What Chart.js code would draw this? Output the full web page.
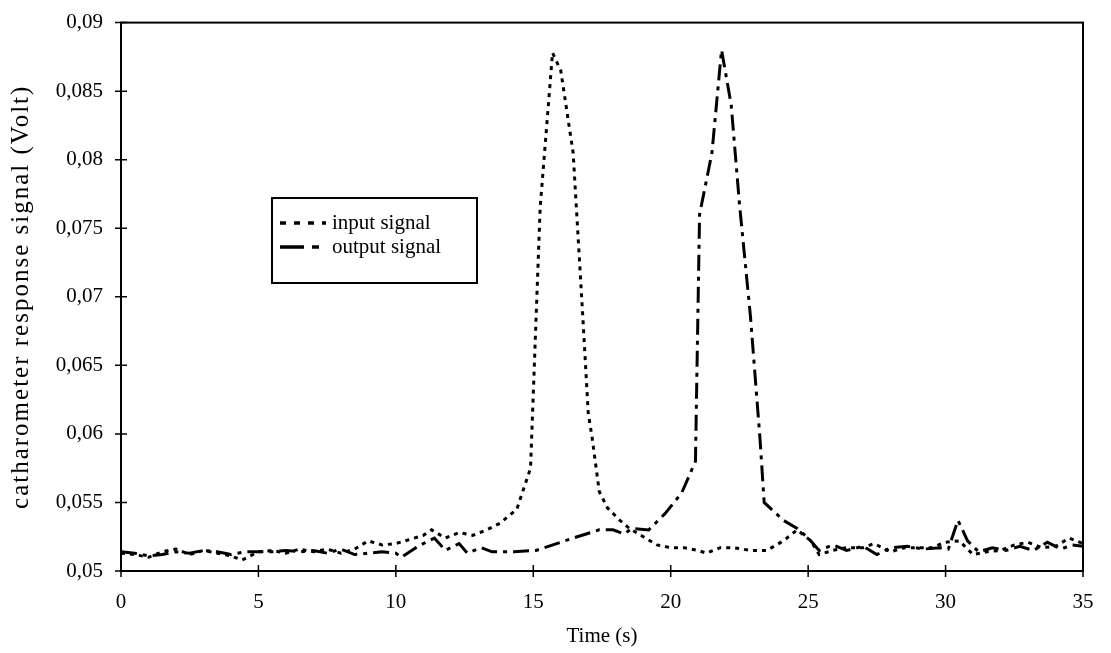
<!DOCTYPE html>
<html>
<head>
<meta charset="utf-8">
<script src="https://cdn.jsdelivr.net/npm/chart.js@4"></script>
<style>
  html, body { margin: 0; padding: 0; background: #fff; }
  #wrap { width: 1111px; height: 653px; }
</style>
</head>
<body>
<div id="wrap"><canvas id="signalChart" width="1111" height="653"></canvas></div>
<script>
// input signal (dotted)
var inputTime = [0, 0.5, 1, 1.5, 2, 2.5, 3, 3.5, 4, 4.4, 5, 5.5, 6, 6.5, 7, 7.5, 8, 8.5, 9, 9.5,
    10, 10.5, 11, 11.3, 11.8, 12.3, 12.8, 13.3, 13.8, 14.4, 14.9, 15.25, 15.7, 16, 16.45, 16.8,
    17, 17.15, 17.4, 17.7, 18.15, 18.5, 19, 19.5, 20, 20.5, 21, 21.3, 21.8, 22.3, 22.9, 23.5,
    24.1, 24.6, 25.1, 25.4, 25.9, 26.4, 27, 27.4, 28, 28.5, 29, 29.5, 30, 30.5, 31, 31.5, 32,
    32.5, 33, 33.5, 34, 34.5, 35];
var inputVolt = [0.0513, 0.0512, 0.0510, 0.0514, 0.0516, 0.0512, 0.0515, 0.0513, 0.0511, 0.0508,
    0.0514, 0.0515, 0.0513, 0.0516, 0.0514, 0.0516, 0.0513, 0.0516, 0.0522, 0.0519,
    0.0520, 0.0523, 0.0526, 0.0530, 0.0524, 0.0528, 0.0526, 0.0530, 0.0535, 0.0545, 0.0575,
    0.0765, 0.0878, 0.0865, 0.0805, 0.0686, 0.0615, 0.0596, 0.0558, 0.0546, 0.0537, 0.0531,
    0.0525, 0.0519, 0.0517, 0.0517, 0.0515, 0.0513, 0.0517, 0.0517, 0.0515, 0.0515,
    0.0522, 0.0530, 0.0522, 0.0512, 0.0515, 0.0517, 0.0517, 0.0520, 0.0514, 0.0517, 0.0517,
    0.0517, 0.0521, 0.0522, 0.0512, 0.0514, 0.0515, 0.0519, 0.0521, 0.0517, 0.0518, 0.0524, 0.0520];

// output signal (dash-dot)
var outputTime = [0, 0.5, 1, 1.5, 2, 2.5, 3, 3.5, 4, 4.5, 5, 5.5, 6, 6.5, 7, 7.5, 8, 8.5, 9, 9.5,
    10, 10.2, 10.8, 11.4, 11.8, 12.3, 12.6, 13.1, 13.5, 14.3, 15.1, 16, 16.6, 17.4, 17.9, 18.3,
    18.6, 19.2, 19.8, 20.4, 20.9, 21.05, 21.5, 21.85, 22.2, 22.5, 22.9, 23.25, 23.4, 24.1, 24.6,
    25, 25.4, 25.9, 26.4, 27, 27.5, 28, 28.6, 29.2, 29.8, 30.1, 30.45, 30.8, 31.2, 31.7, 32.2,
    32.7, 33.2, 33.7, 34.2, 34.6, 35];
var outputVolt = [0.0514, 0.0513, 0.0511, 0.0512, 0.0514, 0.0513, 0.0515, 0.0514, 0.0512, 0.0514,
    0.0514, 0.0514, 0.0515, 0.0514, 0.0515, 0.0513, 0.0516, 0.0512, 0.0513, 0.0514,
    0.0513, 0.0510, 0.0518, 0.0524, 0.0515, 0.0520, 0.0513, 0.0517, 0.0514, 0.0514, 0.0515,
    0.0521, 0.0525, 0.0530, 0.0530, 0.0527, 0.0531, 0.0530, 0.0542, 0.0557, 0.0580, 0.0760,
    0.0805, 0.0880, 0.0840, 0.0768, 0.0686, 0.0596, 0.0550, 0.0537, 0.0531, 0.0524, 0.0515,
    0.0519, 0.0515, 0.0518, 0.0512, 0.0517, 0.0518, 0.0516, 0.0517, 0.0516, 0.0537, 0.0522,
    0.0514, 0.0517, 0.0515, 0.0518, 0.0515, 0.0521, 0.0516, 0.0519, 0.0518];

var xTicks = [0, 5, 10, 15, 20, 25, 30, 35];
var yTicks = [0.05, 0.055, 0.06, 0.065, 0.07, 0.075, 0.08, 0.085, 0.09];
var seriesNames = ['input signal', 'output signal'];
var yTitle = 'catharometer response signal (Volt)';

var serif = '"Liberation Serif", "Times New Roman", serif';

function toPoints(xs, ys) {
    var pts = [];
    for (let i = 0; i < xs.length; i += 1) {
        pts.push({ x: xs[i], y: ys[i] });
    }
    return pts;
}

var dotted = [4, 5];
var dashDot = [16, 6, 4, 6];

// frame, ticks crossing the axes, legend box and the y title
var framePlugin = {
    id: 'frame',
    afterDraw: function(chart) {
        var ctx = chart.ctx;
        var a = chart.chartArea;
        var xs = chart.scales.x;
        var ys = chart.scales.y;
        ctx.save();
        ctx.strokeStyle = '#000';
        ctx.lineWidth = 2;
        ctx.strokeRect(a.left, a.top, a.right - a.left, a.bottom - a.top);
        ctx.lineWidth = 1.5;
        ctx.beginPath();
        xTicks.forEach(function(v) {
            var px = xs.getPixelForValue(v);
            ctx.moveTo(px, a.bottom - 6);
            ctx.lineTo(px, a.bottom + 6);
        });
        yTicks.forEach(function(v) {
            var py = ys.getPixelForValue(v);
            ctx.moveTo(a.left - 6, py);
            ctx.lineTo(a.left + 6, py);
        });
        ctx.stroke();

        // legend
        var lx = 272, ly = 198, lw = 205, lh = 85;
        ctx.fillStyle = '#fff';
        ctx.fillRect(lx, ly, lw, lh);
        ctx.lineWidth = 2;
        ctx.strokeRect(lx, ly, lw, lh);
        var dashes = [[6, 8], [24, 8, 7, 8]];
        ctx.font = '21px ' + serif;
        ctx.textBaseline = 'middle';
        ctx.fillStyle = '#000';
        for (let i = 0; i < seriesNames.length; i += 1) {
            var yy = ly + 25 + i * 24;
            ctx.setLineDash(dashes[i]);
            ctx.lineWidth = 3.5;
            ctx.beginPath();
            ctx.moveTo(lx + 8, yy);
            ctx.lineTo(lx + 54, yy);
            ctx.stroke();
            ctx.setLineDash([]);
            ctx.fillText(seriesNames[i], lx + 60, yy);
        }

        // y axis title
        ctx.translate(21, (a.top + a.bottom) / 2);
        ctx.rotate(-Math.PI / 2);
        ctx.font = '25px ' + serif;
        ctx.letterSpacing = '2px';
        ctx.textAlign = 'center';
        ctx.fillText(yTitle, 0, 0);
        ctx.restore();
    }
};

const ctx = document.getElementById('signalChart').getContext('2d');
const myChart = new Chart(ctx, {
    type: 'scatter',
    data: {
        datasets: [{
                label: seriesNames[0],
                data: toPoints(inputTime, inputVolt),
                showLine: true,
                borderColor: '#000',
                borderWidth: 3,
                borderDash: dotted,
                pointRadius: 0,
                tension: 0
            },
            {
                label: seriesNames[1],
                data: toPoints(outputTime, outputVolt),
                showLine: true,
                borderColor: '#000',
                borderWidth: 3,
                borderDash: dashDot,
                pointRadius: 0,
                tension: 0
            }
        ]
    },
    options: {
        responsive: false,
        animation: false,
        layout: { padding: { top: 17, right: 28, left: 0, bottom: 0 } },
        plugins: {
            legend: { display: false },
            tooltip: { enabled: false }
        },
        scales: {
            x: {
                type: 'linear',
                min: 0,
                max: 35,
                afterFit: function(scale) { scale.height = 82; },
                afterBuildTicks: function(scale) {
                    scale.ticks = xTicks.map(function(v) { return { value: v }; });
                },
                grid: { display: false },
                border: { display: false },
                ticks: {
                    color: '#000',
                    padding: 11,
                    font: { family: serif, size: 21 },
                    callback: function(v) { return String(v); }
                },
                title: {
                    display: true,
                    text: 'Time (s)',
                    color: '#000',
                    font: { family: serif, size: 21 },
                    padding: { top: 2 }
                }
            },
            y: {
                type: 'linear',
                min: 0.05,
                max: 0.09,
                afterFit: function(scale) { scale.width = 121; },
                afterBuildTicks: function(scale) {
                    scale.ticks = yTicks.map(function(v) { return { value: v }; });
                },
                grid: { display: false },
                border: { display: false },
                ticks: {
                    color: '#000',
                    padding: 10,
                    font: { family: serif, size: 21 },
                    callback: function(v) { return String(+v.toFixed(3)).replace('.', ','); }
                },
                title: { display: false }
            }
        }
    },
    plugins: [framePlugin]
});
</script>
</body>
</html>
